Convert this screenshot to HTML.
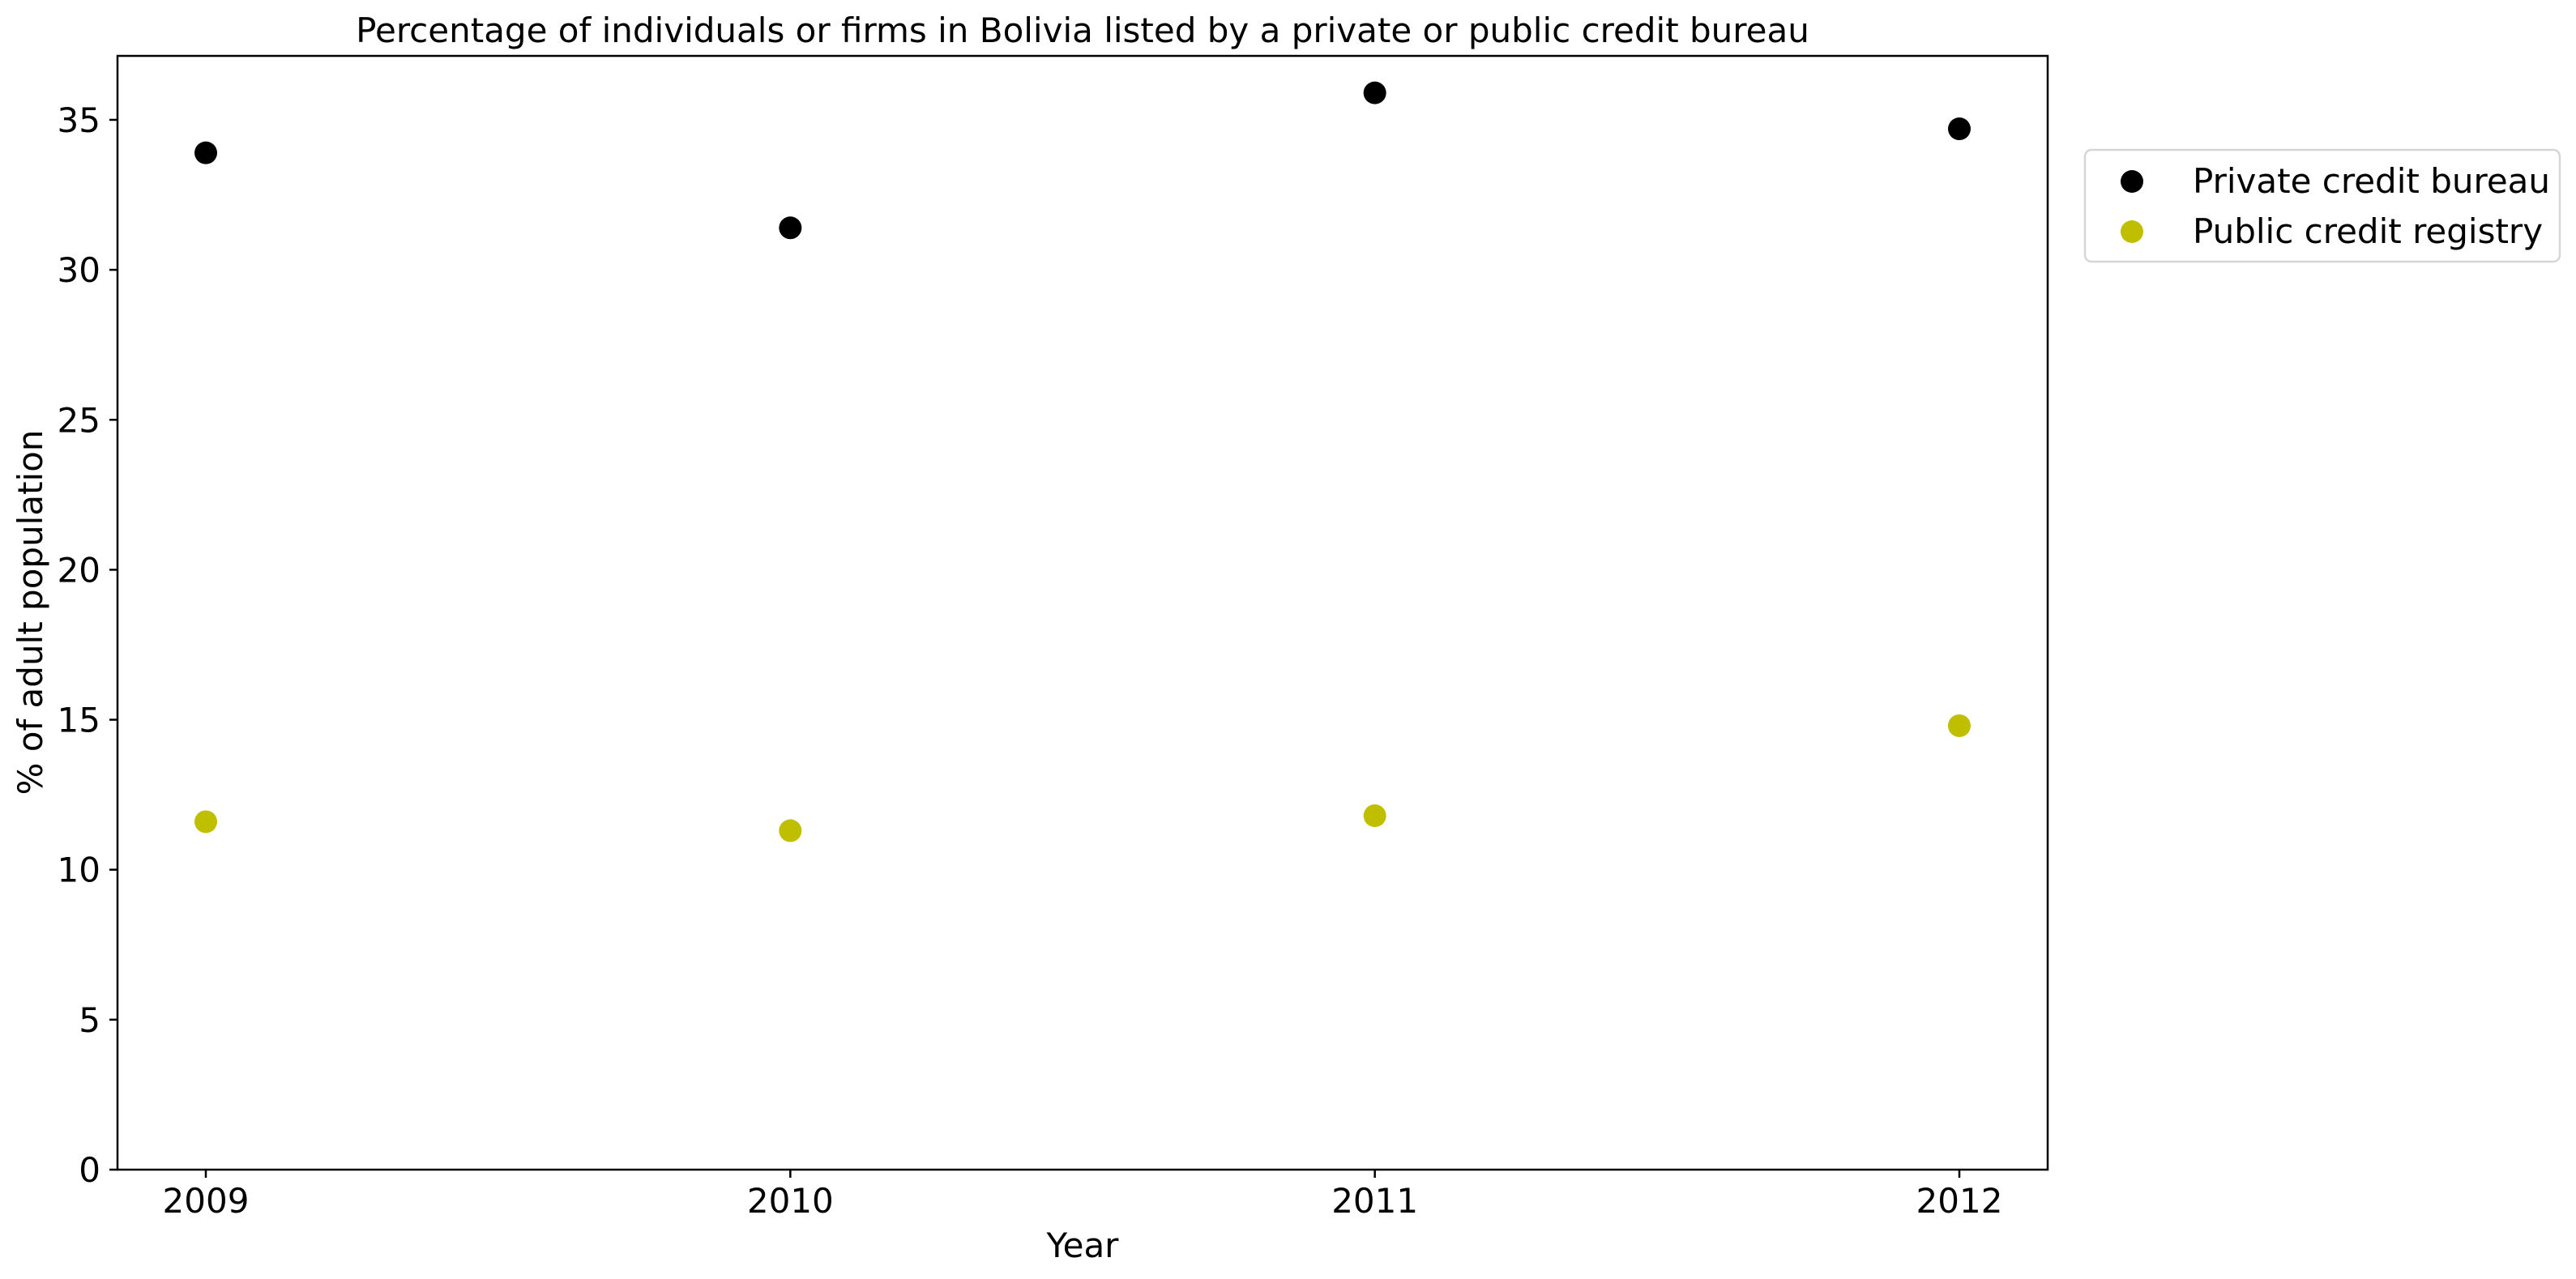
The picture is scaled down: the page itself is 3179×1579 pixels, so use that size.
<!DOCTYPE html>
<html><head><meta charset="utf-8"><style>
html,body{margin:0;padding:0;background:#fff}
svg{display:block;font-family:"DejaVu Sans","Liberation Sans",sans-serif}
</style></head><body>
<svg id="chart" width="3179" height="1579" viewBox="0 0 3179 1579">
<rect width="3179" height="1579" fill="#fff"/>
<text x="1336" y="52" font-size="42" text-anchor="middle">Percentage of individuals or firms in Bolivia listed by a private or public credit bureau</text>
<g id="yticks"></g><g id="xticks"></g><g id="marks"></g>
<rect x="145" y="69" width="2382" height="1375" fill="none" stroke="#000" stroke-width="2.5"/>
<text x="1336" y="1552" font-size="42" text-anchor="middle">Year</text>
<text transform="translate(52,756) rotate(-90)" font-size="42" text-anchor="middle">% of adult population</text>
<g>
<rect x="2573" y="185" width="586" height="138" rx="8" fill="#fff" stroke="#d6d6d6" stroke-width="2.5"/>
<circle cx="2631" cy="224" r="14" fill="#000"/>
<text x="2706" y="238" font-size="42">Private credit bureau</text>
<circle cx="2631" cy="286" r="14" fill="#bfbf00"/>
<text x="2706" y="300" font-size="42">Public credit registry</text>
</g>
</svg>
<script>
const years = [2009, 2010, 2011, 2012];
const privateVals = [33.9, 31.4, 35.9, 34.7];
const publicVals = [11.6, 11.3, 11.8, 14.8];
const yTicks = [0, 5, 10, 15, 20, 25, 30, 35];
const NS = "http://www.w3.org/2000/svg";
function xs(v){ return 254 + (v - 2009) * 721.33; }
function ys(v){ return 1444 - v * 37.03; }
function mk(tag, attrs, parent){ const e = document.createElementNS(NS, tag); for (const k in attrs) e.setAttribute(k, attrs[k]); parent.appendChild(e); return e; }
const yg = document.getElementById('yticks');
yTicks.forEach(t => {
  const l = mk('line', {x1:135, x2:145, y1:ys(t), y2:ys(t), stroke:'#000', 'stroke-width':2.5}, yg);
  
  
  const tx = mk('text', {x:124, y:ys(t) + 15, 'font-size':42, 'text-anchor':'end'}, yg);
  tx.textContent = t;
  
  
});
const xg = document.getElementById('xticks');
years.forEach(y => {
  const l = mk('line', {x1:xs(y), x2:xs(y), y1:1444, y2:1454, stroke:'#000', 'stroke-width':2.5}, xg);
  
  
  const tx = mk('text', {x:xs(y), y:1497, 'font-size':42, 'text-anchor':'middle'}, xg);
  tx.textContent = y;
  
  
});
const mg = document.getElementById('marks');
years.forEach((y, i) => {
  const a = mk('circle', {cx:xs(y), cy:ys(privateVals[i]), r:14, fill:'#000'}, mg);
  
  
  const b = mk('circle', {cx:xs(y), cy:ys(publicVals[i]), r:14, fill:'#bfbf00'}, mg);
  
  
});
</script>
</body></html>
